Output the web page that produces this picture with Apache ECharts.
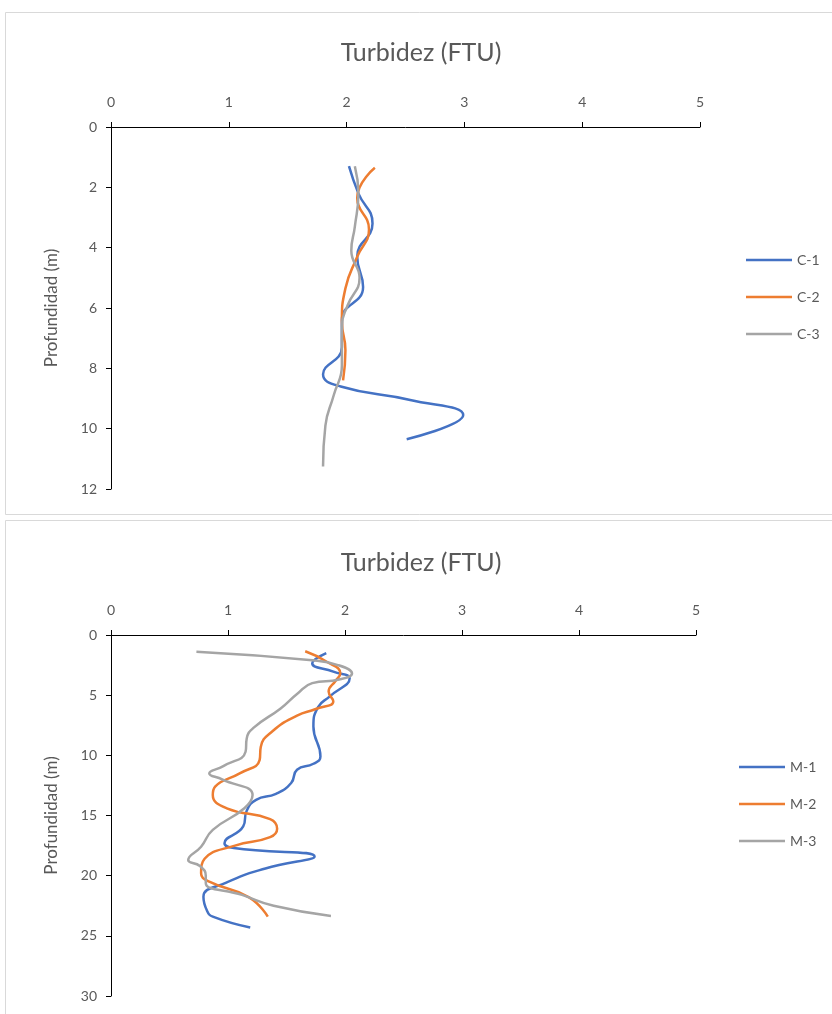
<!DOCTYPE html>
<html>
<head>
<meta charset="utf-8">
<script src="https://cdn.jsdelivr.net/npm/echarts@6/dist/echarts.min.js"></script>
<style>
  html, body { margin: 0; padding: 0; background: #ffffff; }
  #chart { width: 832px; height: 1014px; }
</style>
</head>
<body>
<div id="chart"></div>
<script>
// Turbidity profiles (FTU) against depth (m)
const xTicks = [0, 1, 2, 3, 4, 5];

// Upper panel: stations C-1, C-2, C-3
const c1Depth = [1.3, 2.2, 3.2, 4.3, 5.3, 6.4, 7.3, 8.2, 8.6, 9.05, 9.55, 10.35];
const c1Turb  = [2.02, 2.10, 2.22, 2.09, 2.14, 1.96, 1.96, 1.80, 1.95, 2.54, 2.99, 2.51];
const c2Depth = [1.35, 2.35, 3.4, 4.3, 5.35, 6.45, 7.4, 8.4];
const c2Turb  = [2.24, 2.09, 2.19, 2.09, 1.99, 1.96, 1.99, 1.97];
const c3Depth = [1.3, 2.2, 3.3, 4.1, 5.0, 5.9, 6.6, 7.9, 8.9, 9.9, 11.25];
const c3Turb  = [2.07, 2.10, 2.07, 2.04, 2.11, 2.01, 1.96, 1.96, 1.89, 1.82, 1.80];

// Lower panel: stations M-1, M-2, M-3
const m1Depth = [1.5, 2.35, 3.05, 3.6, 5.1, 6.0, 7.6, 10.1, 10.7, 11.2, 12.3, 13.2, 13.7, 14.6, 15.9, 17.3, 17.7, 18.4, 19.4, 20.6, 21.75, 22.9, 23.4, 24.3];
const m1Turb  = [1.84, 1.72, 1.90, 2.04, 1.87, 1.77, 1.73, 1.79, 1.73, 1.59, 1.54, 1.41, 1.24, 1.16, 1.13, 0.97, 1.05, 1.74, 1.32, 0.98, 0.79, 0.82, 0.87, 1.19];
const m2Depth = [1.35, 2.2, 3.2, 3.8, 4.7, 5.5, 6.15, 6.7, 8.0, 9.3, 10.4, 11.5, 12.6, 13.3, 14.4, 15.3, 16.1, 16.8, 17.5, 18.6, 19.8, 20.5, 21.8, 23.4];
const m2Turb  = [1.66, 1.84, 1.96, 1.92, 1.86, 1.90, 1.75, 1.59, 1.38, 1.28, 1.27, 1.10, 0.89, 0.87, 0.99, 1.36, 1.42, 1.36, 1.06, 0.80, 0.77, 0.84, 1.18, 1.34];
const m3Depth = [1.4, 2.1, 2.5, 3.2, 3.7, 4.0, 4.9, 6.1, 7.7, 8.6, 9.7, 10.9, 11.5, 12.0, 13.3, 14.4, 16.2, 17.6, 18.7, 19.2, 20.0, 20.6, 21.6, 22.5, 23.35];
const m3Turb  = [0.73, 1.72, 1.94, 2.06, 1.95, 1.72, 1.59, 1.45, 1.22, 1.16, 1.15, 0.96, 0.84, 0.95, 1.21, 1.14, 0.87, 0.77, 0.66, 0.76, 0.81, 0.81, 1.12, 1.39, 1.88];

const upperNames = ['C-1', 'C-2', 'C-3'];
const lowerNames = ['M-1', 'M-2', 'M-3'];
const colors = ['#4472C4', '#ED7D31', '#A5A5A5'];
const textColor = '#595959';
const fontFamily = 'Lato, "Open Sans", sans-serif';

function pairs(turb, depth) {
  return turb.map((v, i) => [v, depth[i]]);
}

function xAxisCfg(gridIndex) {
  return {
    gridIndex: gridIndex,
    type: 'value',
    position: 'top',
    min: xTicks[0],
    max: xTicks[xTicks.length - 1],
    interval: 1,
    axisLine: { show: true, onZero: false, lineStyle: { color: '#000000', width: 1 } },
    axisTick: { show: true, length: 5, lineStyle: { color: '#000000' } },
    axisLabel: { color: textColor, fontSize: 14, fontFamily: fontFamily, margin: 18 },
    splitLine: { show: false }
  };
}

function yAxisCfg(gridIndex, max, interval) {
  return {
    gridIndex: gridIndex,
    type: 'value',
    inverse: true,
    min: 0,
    max: max,
    interval: interval,
    name: 'Profundidad (m)',
    nameLocation: 'middle',
    nameGap: 51,
    nameTextStyle: { color: textColor, fontSize: 17, fontFamily: fontFamily },
    axisLine: { show: true, onZero: false, lineStyle: { color: '#000000', width: 1 } },
    axisTick: { show: true, length: 5, lineStyle: { color: '#000000' } },
    axisLabel: { color: textColor, fontSize: 14, fontFamily: fontFamily, margin: 14 },
    splitLine: { show: false }
  };
}

function lineSeries(name, turb, depth, idx, color) {
  return {
    name: name,
    type: 'line',
    xAxisIndex: idx,
    yAxisIndex: idx,
    data: pairs(turb, depth),
    smooth: 0.5,
    symbol: 'none',
    showSymbol: false,
    lineStyle: { color: color, width: 2.5 },
    itemStyle: { color: color }
  };
}

function legendCfg(names, left, top) {
  return {
    data: names.map(n => ({ name: n, icon: 'rect' })),
    orient: 'vertical',
    left: left,
    top: top,
    itemWidth: 46,
    itemHeight: 2.5,
    itemGap: 23,
    textStyle: { color: textColor, fontSize: 14, fontFamily: fontFamily }
  };
}

const chart = echarts.init(document.getElementById('chart'), null, { renderer: 'canvas' });

chart.setOption({
  backgroundColor: '#ffffff',
  animation: false,
  title: [
    { text: 'Turbidez (FTU)', left: 416, top: 35, textAlign: 'center',
      textStyle: { color: textColor, fontSize: 25, fontWeight: 'normal', fontFamily: fontFamily } },
    { text: 'Turbidez (FTU)', left: 416, top: 545, textAlign: 'center',
      textStyle: { color: textColor, fontSize: 25, fontWeight: 'normal', fontFamily: fontFamily } }
  ],
  graphic: [
    { type: 'rect', shape: { x: 5.5, y: 12.5, width: 840, height: 502 },
      style: { fill: 'none', stroke: '#d9d9d9', lineWidth: 1 }, z: -1 },
    { type: 'rect', shape: { x: 5.5, y: 520.5, width: 840, height: 520 },
      style: { fill: 'none', stroke: '#d9d9d9', lineWidth: 1 }, z: -1 }
  ],
  legend: [
    legendCfg(upperNames, 741, 248),
    legendCfg(lowerNames, 734, 755)
  ],
  grid: [
    { left: 111, top: 127, width: 589, height: 362 },
    { left: 111, top: 635, width: 585, height: 361 }
  ],
  xAxis: [xAxisCfg(0), xAxisCfg(1)],
  yAxis: [yAxisCfg(0, 12, 2), yAxisCfg(1, 30, 5)],
  series: [
    lineSeries(upperNames[0], c1Turb, c1Depth, 0, colors[0]),
    lineSeries(upperNames[1], c2Turb, c2Depth, 0, colors[1]),
    lineSeries(upperNames[2], c3Turb, c3Depth, 0, colors[2]),
    lineSeries(lowerNames[0], m1Turb, m1Depth, 1, colors[0]),
    lineSeries(lowerNames[1], m2Turb, m2Depth, 1, colors[1]),
    lineSeries(lowerNames[2], m3Turb, m3Depth, 1, colors[2])
  ]
});
</script>
</body>
</html>
